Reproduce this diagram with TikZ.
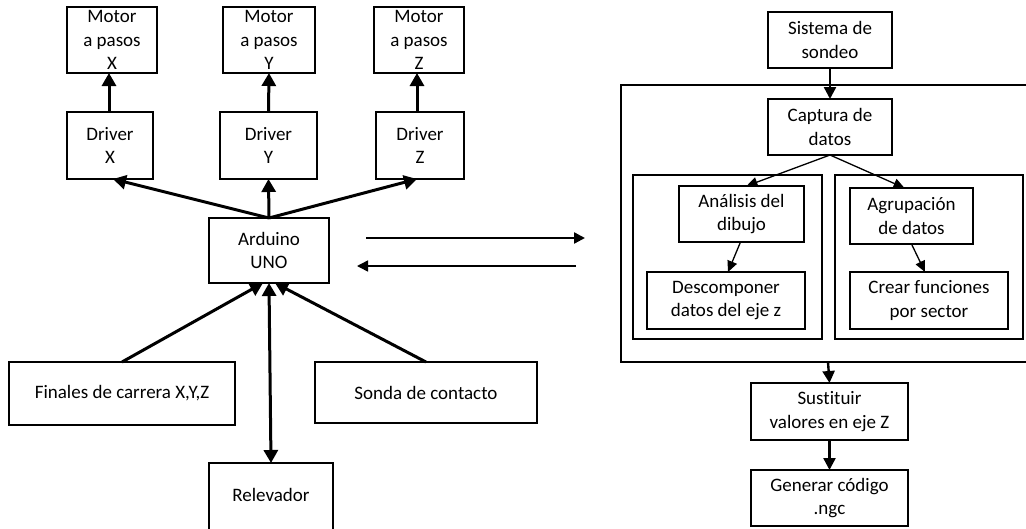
\documentclass[tikz,border=0pt]{standalone}
\usepackage{fontspec}
\setmainfont{Carlito}[Ligatures=NoCommon]
\usetikzlibrary{arrows.meta,calc}
\tikzset{
  box/.style={draw, line width=1.4pt, inner sep=0pt, outer sep=0pt, align=center,
    font=\fontsize{19}{23.5}\selectfont},
  grp/.style={draw, line width=1.4pt, inner sep=0pt, outer sep=0pt},
  thick arrow/.style={line width=3pt, -{Triangle[length=13pt,width=14pt]}},
  med arrow/.style={line width=2.4pt, -{Triangle[length=12pt,width=12pt]}},
  thin arrow/.style={line width=1.3pt, -{Triangle[length=11pt,width=10pt]}},
}
\begin{document}
\begin{tikzpicture}[x=1pt,y=-1pt]
\clip (0,0) rectangle (1026,528);
\fill[white] (0,0) rectangle (1026,528);
% left side
\node[box, minimum width=90pt, minimum height=66pt] (motX) at (112,40) {Motor\\a pasos\\X};
\node[box, minimum width=92pt, minimum height=66pt] (motY) at (269,40) {Motor\\a pasos\\Y};
\node[box, minimum width=90pt, minimum height=66pt] (motZ) at (419,40) {Motor\\a pasos\\Z};
\node[box, minimum width=86pt, minimum height=67pt] (drvX) at (110,145.5) {Driver\\X};
\node[box, minimum width=97pt, minimum height=67pt] (drvY) at (268.5,145.5) {Driver\\Y};
\node[box, minimum width=88pt, minimum height=67pt] (drvZ) at (420,145.5) {Driver\\Z};
\node[box, minimum width=120pt, minimum height=65pt] (ard) at (269,250.5) {Arduino\\UNO};
\node[box, minimum width=226pt, minimum height=63pt] (fin) at (122,393.5) {Finales de carrera X,Y,Z};
\node[box, minimum width=222pt, minimum height=61pt] (son) at (426,392.5) {Sonda de contacto};
\node[box, minimum width=124pt, minimum height=80pt] (rel) at (271,503) {};
\node[font=\fontsize{19}{23.5}\selectfont] (relt) at (271,495) {Relevador};

\draw[thick arrow] ($(drvX.north)+(-1,0)$) -- ($(motX.south)+(-3,0)$);
\draw[thick arrow] (drvY.north) -- (motY.south);
\draw[thick arrow] ($(drvZ.north)+(-3,0)$) -- ($(motZ.south)+(-2,0)$);
\draw[thick arrow] (ard.north) -- ($(drvX.south)+(3,0)$);
\draw[thick arrow] (ard.north) -- (drvY.south);
\draw[thick arrow] (ard.north) -- ($(drvZ.south)+(-3,0)$);
\draw[thick arrow] (fin.north) -- ($(ard.south)+(-6,0)$);
\draw[thick arrow] (son.north) -- ($(ard.south)+(6,0)$);
\draw[line width=3pt, {Triangle[length=13pt,width=14pt]}-{Triangle[length=13pt,width=14pt]}] ($(ard.south)+(0,0)$) -- (rel.north);

\coordinate (h1a) at (366,238);
\coordinate (h1b) at (585,238);
\coordinate (h2a) at (576,266);
\coordinate (h2b) at (357,266);
\draw[line width=2.4pt, -{Triangle[length=11pt,width=11pt]}] (h1a) -- (h1b);
\draw[line width=1.5pt, -{Triangle[length=11pt,width=11pt]}] (h2a) -- (h2b);

% right side
\node[grp, minimum width=408pt, minimum height=277pt] (cont) at (825,223.5) {};
\node[grp, minimum width=189pt, minimum height=164pt] (subL) at (727.5,257) {};
\node[grp, minimum width=188pt, minimum height=164pt] (subR) at (929,257) {};
\node[box, minimum width=124pt, minimum height=56pt] (sis) at (830,40) {Sistema de\\sondeo};
\node[box, minimum width=124pt, minimum height=56pt] (cap) at (830,127) {Captura de\\datos};
\node[box, minimum width=125pt, minimum height=56pt] (ana) at (741.5,214) {Análisis del\\dibujo};
\node[box, minimum width=123pt, minimum height=56pt] (agr) at (911.5,216) {Agrupación\\de datos};
\node[box, minimum width=158pt, minimum height=57pt] (des) at (726,300.5) {Descomponer\\datos del eje z};
\node[box, minimum width=158pt, minimum height=57pt] (cre) at (929,300.5) {Crear funciones\\por sector};
\node[box, minimum width=157pt, minimum height=57pt] (sus) at (829.5,411.5) {Sustituir\\valores en eje Z};
\node[box, minimum width=157pt, minimum height=56pt] (gen) at (829.5,498) {Generar código\\.ngc};

\draw[med arrow] (sis.south) -- (cap.north);
\draw[thin arrow] (cap.south) -- ($(ana.north)+(5,0)$);
\draw[thin arrow] (cap.south) -- ($(agr.north)+(-7,0)$);
\draw[thin arrow] ($(ana.south)+(-1,0)$) -- ($(des.north)+(2,0)$);
\draw[thin arrow] ($(agr.south)+(0,0)$) -- ($(cre.north)+(-4,0)$);
\draw[med arrow] ($(cont.south west)!0.5!(cont.south east)+(3,0)$) -- (sus.north);
\draw[med arrow] (sus.south) -- (gen.north);
\end{tikzpicture}
\end{document}
